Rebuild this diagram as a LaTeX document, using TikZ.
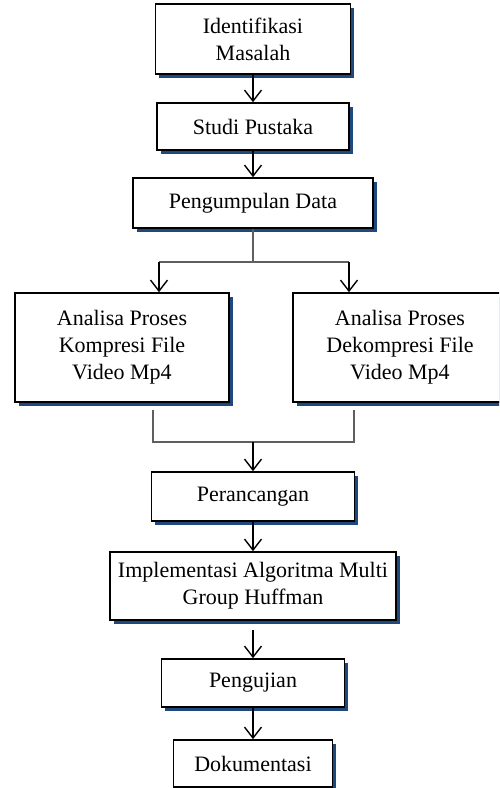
\documentclass[tikz,border=0pt]{standalone}
\usepackage{fontspec}
\setmainfont{Liberation Serif}
\usepackage{tikz}
\usetikzlibrary{arrows.meta,shadows}
\definecolor{shadowblue}{RGB}{31,73,125}
\definecolor{linkgray}{RGB}{95,95,95}
\tikzset{%
  stepbox/.style={draw=black,line width=1.6pt,fill=white,align=center,
    inner sep=0pt,font=\fontsize{22}{27}\selectfont,
    drop shadow={shadow xshift=3.5pt,shadow yshift=-3.5pt,
      fill=shadowblue,opacity=1}},
  arr/.style={line width=1.4pt,-{Straight Barb[length=11pt,width=17pt,line width=1.4pt]}},
  branch/.style={line width=1.1pt,draw=linkgray}
}

\begin{document}
\begin{tikzpicture}[x=1pt,y=-1pt]
  \path[use as bounding box,clip] (0,0) rectangle (499,788);
  \def\ax{253} % axis of the main column

  % main column
  \node[stepbox,minimum width=195pt,minimum height=70pt] (ident) at (\ax,39)
    {Identifikasi\\Masalah};
  \node[stepbox,minimum width=192pt,minimum height=47pt] (studi) at (\ax,126.5)
    {Studi Pustaka};
  \node[stepbox,minimum width=240pt,minimum height=50pt] (data) at (\ax,203)
    {Pengumpulan Data};

  % two analyses side by side
  \node[stepbox,minimum width=214pt,minimum height=109pt] (kompresi) at (122,347.5)
    {Analisa Proses\\Kompresi File\\Video Mp4};
  \node[stepbox,minimum width=214pt,minimum height=109pt] (dekompresi) at (400,347.5)
    {Analisa Proses\\Dekompresi File\\Video Mp4};

  \node[stepbox,minimum width=203pt,minimum height=49pt] (rancang) at (\ax,496.5)
    {Perancangan};
  \node[stepbox,minimum width=286pt,minimum height=68pt] (implementasi) at (\ax,586)
    {Implementasi Algoritma Multi\\Group Huffman};
  \node[stepbox,minimum width=183pt,minimum height=48pt] (uji) at (\ax,683)
    {Pengujian};
  \node[stepbox,minimum width=159pt,minimum height=47pt] (dokumen) at (\ax,763.5)
    {Dokumentasi};

  % split and join points
  \coordinate (split) at (\ax,262);
  \coordinate (sl) at (159,262);
  \coordinate (sr) at (349,262);
  \coordinate (kl) at (153,410);
  \coordinate (kr) at (354,410);
  \coordinate (jl) at (153,442);
  \coordinate (jr) at (354,442);
  \coordinate (join) at (\ax,442);
  \coordinate (implout) at (\ax,630);

  \draw[arr] (ident) -- (studi);
  \draw[arr] (studi) -- (data);

  \draw[branch] (data) -- (split);
  \draw[branch] (sl) -- (sr);
  \draw[arr] (sl) -- (sl |- kompresi.north);
  \draw[arr] (sr) -- (sr |- dekompresi.north);

  \draw[branch] (kl) -- (jl) -- (jr) -- (kr);
  \draw[arr] (join) -- (rancang);

  \draw[arr] (rancang) -- (implementasi);
  \draw[arr] (implout) -- (uji);
  \draw[arr] (uji) -- (dokumen);
\end{tikzpicture}
\end{document}
